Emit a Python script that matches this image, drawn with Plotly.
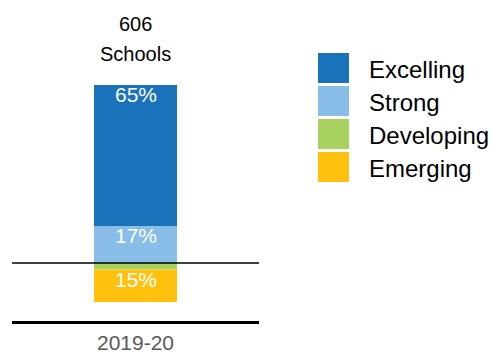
import plotly.graph_objects as go

categories = ["2019-20"]
series_names = ["Excelling", "Strong", "Developing", "Emerging"]
excelling = [65]
strong = [17]
developing = [-3]
emerging = [-15]
school_counts = [606]
colors = {"Excelling": "#1a72bb", "Strong": "#87bde6", "Developing": "#a9d15f", "Emerging": "#ffc10e"}

W, H = 492, 356
L, R, T, B = 12, 233, 0, 35
pw, ph = W - L - R, H - T - B
zero_px = 263
scale = 2.17
y_top = (zero_px - T) / scale
y_bot = -(H - B - zero_px) / scale

def px_x(px):
    return (px - L) / pw

def px_y(py):
    return (H - B - py) / ph

FONT = "Liberation Sans, Arial"
fig = go.Figure()
# stacking order: nearest to zero first
stack = [("Strong", strong), ("Excelling", excelling),
         ("Developing", developing), ("Emerging", emerging)]
pos_base = [0.0] * len(categories)
neg_base = [0.0] * len(categories)
for name, vals in stack:
    fig.add_trace(go.Bar(
        x=categories, y=vals, name=name, marker=dict(color=colors[name], line=dict(width=0)),
        showlegend=False, hoverinfo="skip",
    ))
    for j, (c, v) in enumerate(zip(categories, vals)):
        if v >= 0:
            ytxt = pos_base[j] + v
            pos_base[j] += v
        else:
            ytxt = neg_base[j]
            neg_base[j] += v
        if abs(v) >= 5:
            fig.add_annotation(x=c, y=ytxt, text=f"{abs(v)}%", showarrow=False,
                               yanchor="top", yshift=4,
                               font=dict(color="white", size=21, family=FONT))

for c, n in zip(categories, school_counts):
    fig.add_annotation(x=c, y=px_y(24), yref="paper", yanchor="middle", text=str(n), showarrow=False,
                       font=dict(size=20, color="black", family=FONT))
    fig.add_annotation(x=c, y=px_y(54), yref="paper", yanchor="middle", text="Schools", showarrow=False,
                       font=dict(size=20, color="black", family=FONT))

# zero line
fig.add_shape(type="line", xref="paper", yref="y", x0=0, x1=1, y0=0, y1=0,
              line=dict(color="black", width=1.5), layer="above")

# custom legend
for i, name in enumerate(series_names):
    top = 53 + 33 * i
    fig.add_shape(type="rect", xref="paper", yref="paper",
                  x0=px_x(318), x1=px_x(349), y0=px_y(top + 30), y1=px_y(top),
                  fillcolor=colors[name], line=dict(width=0))
    fig.add_annotation(xref="paper", yref="paper", x=px_x(367), y=px_y(top + 16),
                       text=name, showarrow=False, xanchor="left", yanchor="middle",
                       font=dict(size=24, color="black", family=FONT))

fig.update_layout(
    width=W, height=H, margin=dict(l=L, r=R, t=T, b=B),
    barmode="relative", bargap=0.664,
    plot_bgcolor="white", paper_bgcolor="white",
    xaxis=dict(showline=True, linecolor="black", linewidth=3, ticks="",
               tickfont=dict(size=21, color="#595959", family=FONT),
               ticklabelstandoff=1, automargin=False, showgrid=False),
    yaxis=dict(range=[y_bot, y_top], visible=False, showgrid=False, zeroline=False,
               automargin=False),
)

fig.write_html("out.html")
